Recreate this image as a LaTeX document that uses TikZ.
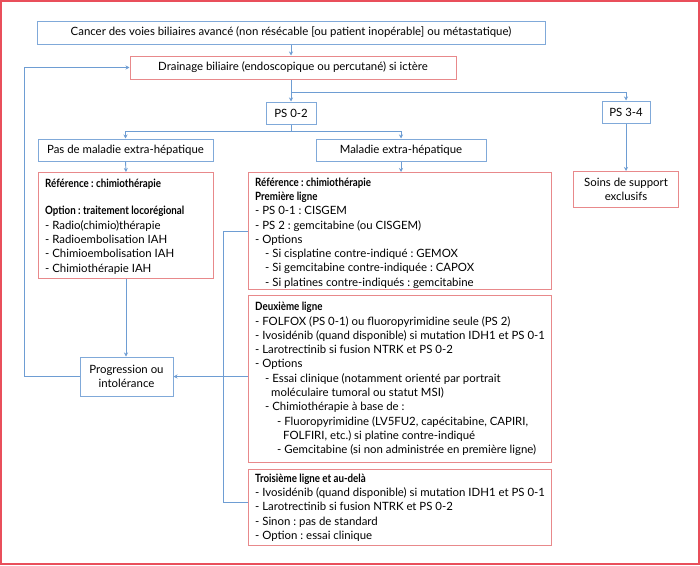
\documentclass[tikz,border=0pt]{standalone}
\usepackage{fontspec}
\setmainfont{Lato}[BoldFeatures={FakeStretch=0.855}]
\usetikzlibrary{arrows.meta}
\definecolor{bl}{HTML}{80A9D9}
\definecolor{rb}{HTML}{E8898B}
\definecolor{fr}{HTML}{E94F5B}
\definecolor{ln}{HTML}{6E9DD3}
\frenchspacing
\begin{document}
\begin{tikzpicture}[x=1pt,y=-1pt,
  txt/.style={font=\fontsize{11.4}{14.3}\selectfont},
  bbox/.style={txt, draw=bl, line width=1pt, inner sep=0pt, align=center},
  rbox/.style={txt, draw=rb, line width=1pt, inner sep=0pt, align=center},
  rframe/.style={draw=rb, line width=1pt, anchor=north west, inner sep=0pt},
  ltext/.style={txt, anchor=west, inner sep=0pt, xshift=7pt, align=left},
  conn/.style={draw=ln, line width=0.9pt},
  arr/.style={conn, -{Stealth[length=4pt,width=4pt]}}]
\useasboundingbox (0,0) rectangle (700,565);
\draw[fr, line width=2pt] (1,1) rectangle (699,564);

\node[bbox, minimum width=508, minimum height=23] (top) at (291,32.5) {Cancer des voies biliaires avancé (non résécable [ou patient inopérable] ou métastatique)};
\node[rbox, minimum width=326, minimum height=23] (drain) at (293,67.5) {Drainage biliaire (endoscopique ou percutané) si ictère};
\node[bbox, minimum width=50, minimum height=22] (ps02) at (291,113) {PS 0-2};
\node[bbox, minimum width=48, minimum height=22] (ps34) at (626,112) {PS 3-4};
\node[bbox, minimum width=175, minimum height=22] (nomal) at (125.5,150) {Pas de maladie extra-hépatique};
\node[bbox, minimum width=170, minimum height=22] (mal) at (401,150) {Maladie extra-hépatique};
\node[rbox, minimum width=105, minimum height=36] (soins) at (626,189.5) {Soins de support\\exclusifs};
\node[bbox, minimum width=93, minimum height=39] (prog) at (126.5,376.5) {Progression ou\\intolérance};

\node[rframe, minimum width=175, minimum height=106] (refL) at (38,172) {};
\node[ltext, yshift=-1pt] (refLt) at (refL.west) {\textbf{Référence : chimiothérapie}\\[13pt]\textbf{Option : traitement locorégional}\\- Radio(chimio)thérapie\\- Radioembolisation IAH\\- Chimioembolisation IAH\\- Chimiothérapie IAH};

\node[rframe, minimum width=303, minimum height=117] (ref1) at (248,172) {};
\node[ltext, yshift=-2pt] (ref1t) at (ref1.west) {\textbf{Référence : chimiothérapie}\\\textbf{Première ligne}\\- PS 0-1 : CISGEM\\- PS 2 : gemcitabine (ou CISGEM)\\- Options\\\hspace*{10pt}- Si cisplatine contre-indiqué : GEMOX\\\hspace*{10pt}- Si gemcitabine contre-indiquée : CAPOX\\\hspace*{10pt}- Si platines contre-indiqués : gemcitabine};

\node[rframe, minimum width=303, minimum height=167] (ref2) at (248,295) {};
\node[ltext] (ref2t) at (ref2.west) {\textbf{Deuxième ligne}\\- FOLFOX (PS 0-1) ou fluoropyrimidine seule (PS 2)\\- Ivosidénib (quand disponible) si mutation IDH1 et PS 0-1\\- Larotrectinib si fusion NTRK et PS 0-2\\- Options\\\hspace*{10pt}- Essai clinique (notamment orienté par portrait\\\hspace*{16pt}moléculaire tumoral ou statut MSI)\\\hspace*{10pt}- Chimiothérapie à base de :\\\hspace*{22pt}- Fluoropyrimidine (LV5FU2, capécitabine, CAPIRI,\\\hspace*{28pt}FOLFIRI, etc.) si platine contre-indiqué\\\hspace*{22pt}- Gemcitabine (si non administrée en première ligne)};

\node[rframe, minimum width=303, minimum height=76] (ref3) at (248,469) {};
\node[ltext] (ref3t) at (ref3.west) {\textbf{Troisième ligne et au-delà}\\- Ivosidénib (quand disponible) si mutation IDH1 et PS 0-1\\- Larotrectinib si fusion NTRK et PS 0-2\\- Sinon : pas de standard\\- Option : essai clinique};

\coordinate (j1) at (291,92);
\coordinate (j2) at (291,131);
\coordinate (b1) at (223,231);
\coordinate (b2) at (223,502);
\coordinate (lp1) at (24,376.5);
\coordinate (lp2) at (24,67.5);

\draw[arr] (top.south) -- (top.south |- drain.north);
\draw[arr] (j1) -- (ps02.north);
\draw[conn] (drain.south -| j1) -- (j1);
\draw[arr] (j1) -| (ps34.north);
\draw[conn] (ps02.south) -- (j2);
\draw[arr] (j2) -| (nomal.north);
\draw[arr] (j2) -| (mal.north);
\draw[arr] (nomal.south) -- (refL.north);
\draw[arr] (mal.south) -- (ref1.north -| mal.south);
\draw[arr] (ps34.south) -- (soins.north);
\draw[arr] (refL.south) -- (prog.north -| refL.south);
\draw[conn] (ref1.west |- b1) -- (b1) -- (b2) -- (ref3.west |- b2);
\draw[arr] (ref2.west |- prog.east) -- (prog.east);
\draw[arr] (prog.west) -- (lp1) -- (lp2) -- (drain.west);
\end{tikzpicture}
\end{document}
